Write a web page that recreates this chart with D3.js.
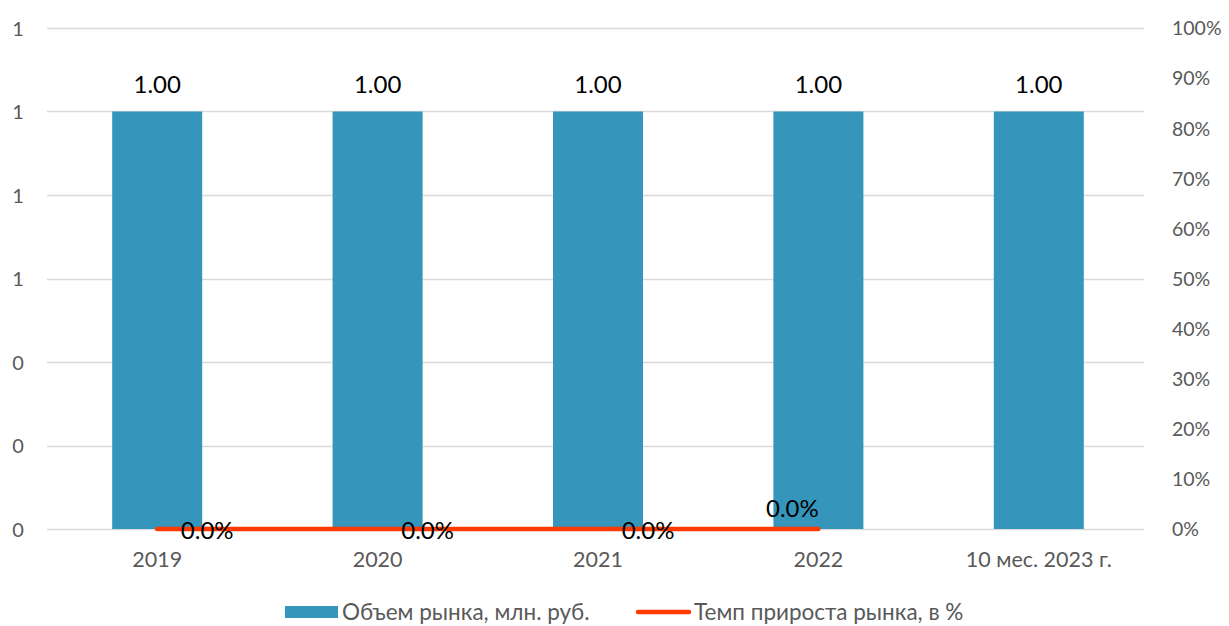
<!DOCTYPE html>
<html>
<head>
<meta charset="utf-8">
<script src="https://cdn.jsdelivr.net/npm/d3@7"></script>
<style>
  html, body { margin: 0; padding: 0; background: #fff; }
  svg { display: block; }
  text { font-family: Lato, "Open Sans", "Noto Sans", sans-serif; }
</style>
</head>
<body>
<svg id="chart" width="1229" height="626"></svg>
<script>
// Chart data
const categories = ["2019", "2020", "2021", "2022", "10 мес. 2023 г."];
const marketVolume = [1.00, 1.00, 1.00, 1.00, 1.00];          // млн. руб.
const growthRate = [0.0, 0.0, 0.0, 0.0];                      // %, 2019–2022
const leftTicks = [0, 0.2, 0.4, 0.6, 0.8, 1.0, 1.2];
const rightTicks = [0, 10, 20, 30, 40, 50, 60, 70, 80, 90, 100];
const seriesNames = ["Объем рынка, млн. руб.", "Темп прироста рынка, в %"];

// Growth-rate label offsets (label placement per point)
const growthLabelOffsets = [[50, 2], [50, 2], [50, 2], [-26, -20]];

const svg = d3.select("#chart");
const plotLeft = 47, plotRight = 1149;
const plotTop = 28, plotBottom = 529;

const barColor = "#3595BB";
const lineColor = "#FF3A00";
const axisText = "#595959";

const x = d3.scaleBand().domain(categories).range([plotLeft, plotRight]).paddingInner(0).paddingOuter(0);
const yL = d3.scaleLinear().domain([0, 1.2]).range([plotBottom, plotTop]);
const yR = d3.scaleLinear().domain([0, 100]).range([plotBottom, plotTop]);

// Gridlines
svg.append("g")
  .selectAll("line")
  .data(leftTicks)
  .join("line")
  .attr("x1", plotLeft).attr("x2", 1144)
  .attr("y1", d => Math.round(yL(d)) + 0.5).attr("y2", d => Math.round(yL(d)) + 0.5)
  .attr("stroke", "#D9D9D9").attr("stroke-width", 1.3);

// Left axis
const leftAxis = d3.axisLeft(yL).tickValues(leftTicks).tickFormat(d3.format(".0f")).tickSize(0);
const gL = svg.append("g").attr("transform", "translate(24,0)").call(leftAxis);
gL.select(".domain").remove();
gL.selectAll("text").attr("fill", axisText).attr("font-size", 20).attr("text-anchor", "middle").attr("x", -6).attr("dy", "0.35em");

// Right axis
const rightAxis = d3.axisRight(yR).tickValues(rightTicks).tickFormat(d => d + "%").tickSize(0);
const gR = svg.append("g").attr("transform", "translate(1166,0)").call(rightAxis);
gR.select(".domain").remove();
gR.selectAll("text").attr("fill", axisText).attr("font-size", 19.5).attr("x", 6).attr("dy", "0.35em");

// Bottom axis
const bottomAxis = d3.axisBottom(x).tickSize(0);
const gB = svg.append("g").attr("transform", `translate(0,${plotBottom})`).call(bottomAxis);
gB.select(".domain").remove();
gB.selectAll("text").attr("fill", axisText).attr("font-size", 21.5).attr("dy", "0").attr("y", 38);

// Bars
const barW = 90;
svg.append("g")
  .selectAll("rect")
  .data(marketVolume)
  .join("rect")
  .attr("x", (d, i) => x(categories[i]) + x.bandwidth() / 2 - barW / 2)
  .attr("width", barW)
  .attr("y", d => yL(d))
  .attr("height", d => yL(0) - yL(d))
  .attr("fill", barColor);

// Bar value labels
svg.append("g")
  .selectAll("text")
  .data(marketVolume)
  .join("text")
  .attr("x", (d, i) => x(categories[i]) + x.bandwidth() / 2)
  .attr("y", d => yL(d) - 27)
  .attr("dy", "0.35em")
  .attr("text-anchor", "middle")
  .attr("font-size", 24)
  .attr("fill", "#000")
  .text(d => d3.format(".2f")(d));

// Growth line
const line = d3.line()
  .x((d, i) => x(categories[i]) + x.bandwidth() / 2)
  .y(d => yR(d));
svg.append("path")
  .datum(growthRate)
  .attr("d", line)
  .attr("fill", "none")
  .attr("stroke", lineColor)
  .attr("stroke-width", 4.5)
  .attr("stroke-linecap", "round");

// Growth labels
svg.append("g")
  .selectAll("text")
  .data(growthRate)
  .join("text")
  .attr("x", (d, i) => x(categories[i]) + x.bandwidth() / 2 + growthLabelOffsets[i][0])
  .attr("y", (d, i) => yR(d) + growthLabelOffsets[i][1])
  .attr("dy", "0.35em")
  .attr("text-anchor", "middle")
  .attr("font-size", 24)
  .attr("fill", "#000")
  .text(d => d3.format(".1f")(d) + "%");

// Legend
const legend = svg.append("g").attr("transform", "translate(0,612)");
legend.append("rect").attr("x", 285).attr("y", -6).attr("width", 53).attr("height", 12).attr("fill", barColor);
legend.append("text").attr("x", 342).attr("y", 0).attr("dy", "0.35em").attr("font-size", 22.5).attr("fill", axisText).text(seriesNames[0]);
legend.append("line").attr("x1", 638).attr("x2", 689).attr("y1", 0).attr("y2", 0)
  .attr("stroke", lineColor).attr("stroke-width", 4.5).attr("stroke-linecap", "round");
legend.append("text").attr("x", 694).attr("y", 0).attr("dy", "0.35em").attr("font-size", 22.5).attr("fill", axisText).text(seriesNames[1]);
</script>
</body>
</html>
